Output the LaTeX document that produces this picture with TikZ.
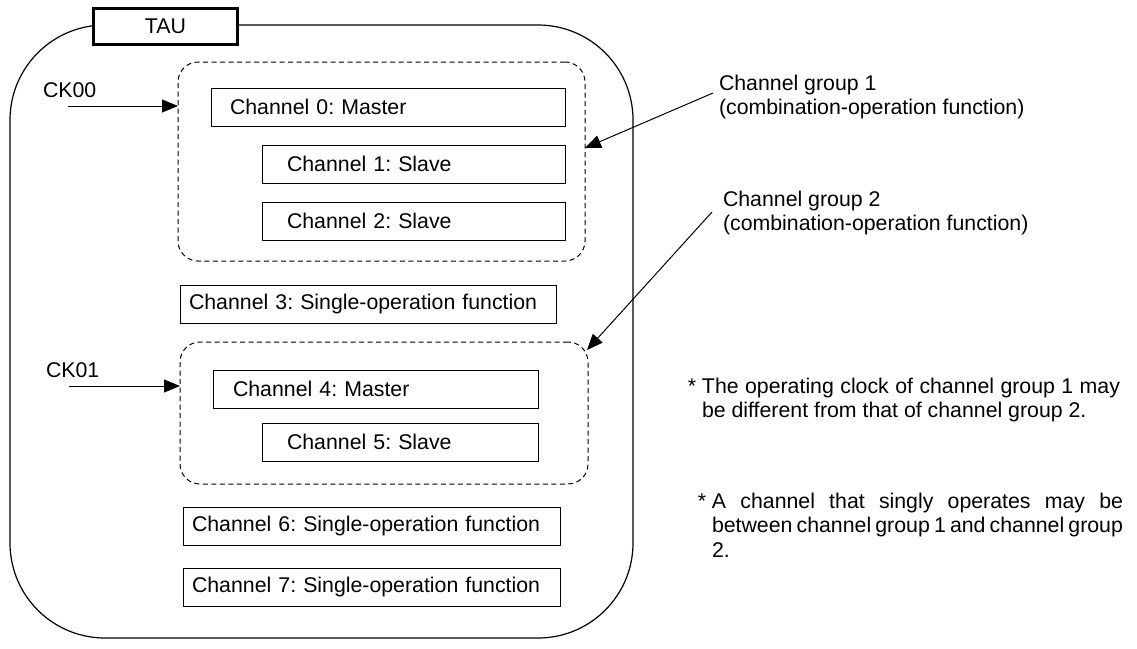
\documentclass[tikz,border=0pt]{standalone}
\usepackage{fontspec}
\setmainfont{Liberation Sans}
\usetikzlibrary{arrows.meta}
\tikzset{
  frame/.style={draw, line width=1.2pt, rounded corners=95pt, inner sep=0pt, outer sep=0pt},
  taubox/.style={draw, line width=3pt, fill=white, inner sep=0pt, outer sep=0pt},
  chbox/.style={draw, line width=1pt, anchor=north west, inner ysep=0pt, outer sep=0pt, align=left, minimum height=38pt},
  grp/.style={draw, line width=1pt, dash pattern=on 5pt off 3.5pt, rounded corners=20pt, inner sep=0pt, outer sep=0pt},
  arr/.style={-{Triangle[length=16pt,width=13pt]}, line width=1pt},
  lbl/.style={anchor=north west, inner sep=0pt, outer sep=0pt, align=left},
  clk/.style={anchor=base west, inner sep=0pt, outer sep=0pt},
}
\begin{document}
\frenchspacing
\hyphenpenalty=10000
\exhyphenpenalty=10000
\begin{tikzpicture}[x=1pt,y=-1pt,font=\fontsize{21.3}{24.5}\selectfont\frenchspacing]
\useasboundingbox (0,0) rectangle (1137,648);

% outer TAU frame and title
\node[frame, minimum width=623pt, minimum height=613pt] (fr) at (321.5,331.5) {};
\node[taubox, minimum width=144pt, minimum height=36pt] (tau) at (165.5,26.5) {TAU};

% channel groups
\node[grp, minimum width=407pt, minimum height=199pt] (g1) at (381.5,161.5) {};
\node[grp, minimum width=408pt, minimum height=142pt] (g2) at (384,413) {};

% channels
\node[chbox, text width=316pt, inner xsep=19pt] (c0) at (211,88) {Channel 0: Master};
\node[chbox, text width=253pt, inner xsep=25pt] (c1) at (262,145) {Channel 1: Slave};
\node[chbox, text width=253pt, inner xsep=25pt] (c2) at (262,202) {Channel 2: Slave};
\node[chbox, text width=358pt, inner xsep=9pt] (c3) at (180,285) {Channel 3: Single-operation function};
\node[chbox, text width=285pt, inner xsep=20pt] (c4) at (213,370) {Channel 4: Master};
\node[chbox, text width=226pt, inner xsep=25pt] (c5) at (262,423) {Channel 5: Slave};
\node[chbox, text width=359pt, inner xsep=9pt] (c6) at (183,507) {Channel 6: Single-operation function};
\node[chbox, text width=359pt, inner xsep=9pt] (c7) at (183,568) {Channel 7: Single-operation function};

% clocks
\node[clk] (ck0) at (43,97) {CK00};
\node[clk] (ck1) at (46,377) {CK01};
\coordinate (ck0s) at (68,106);
\coordinate (ck1s) at (69,386);
\draw[arr] (ck0s) -- (ck0s -| g1.west);
\draw[arr] (ck1s) -- (ck1s -| g2.west);

% group labels
\node[lbl] (l1) at (719,75) {Channel group 1\\(combination-operation function)};
\node[lbl] (l2) at (723,191) {Channel group 2\\(combination-operation function)};
\coordinate (a1s) at (713,93);
\coordinate (a2s) at (712,212);
\draw[arr] (a1s) -- (g1.east |- 0,148);
\draw[arr] (a2s) -- ([xshift=-1pt,yshift=-8pt]g2.north east);

% notes
\node[lbl, text width=418pt, align=justify] (n1) at (702,378)
  {\noindent\llap{*\ }The operating clock of channel group 1 may\linebreak be different from that of channel group 2.};
\node[lbl, text width=411pt, align=justify] (n2) at (712,493)
  {\noindent\llap{*\ }A channel that singly operates may be\linebreak between channel group 1 and channel group\linebreak 2.};
\end{tikzpicture}
\end{document}
